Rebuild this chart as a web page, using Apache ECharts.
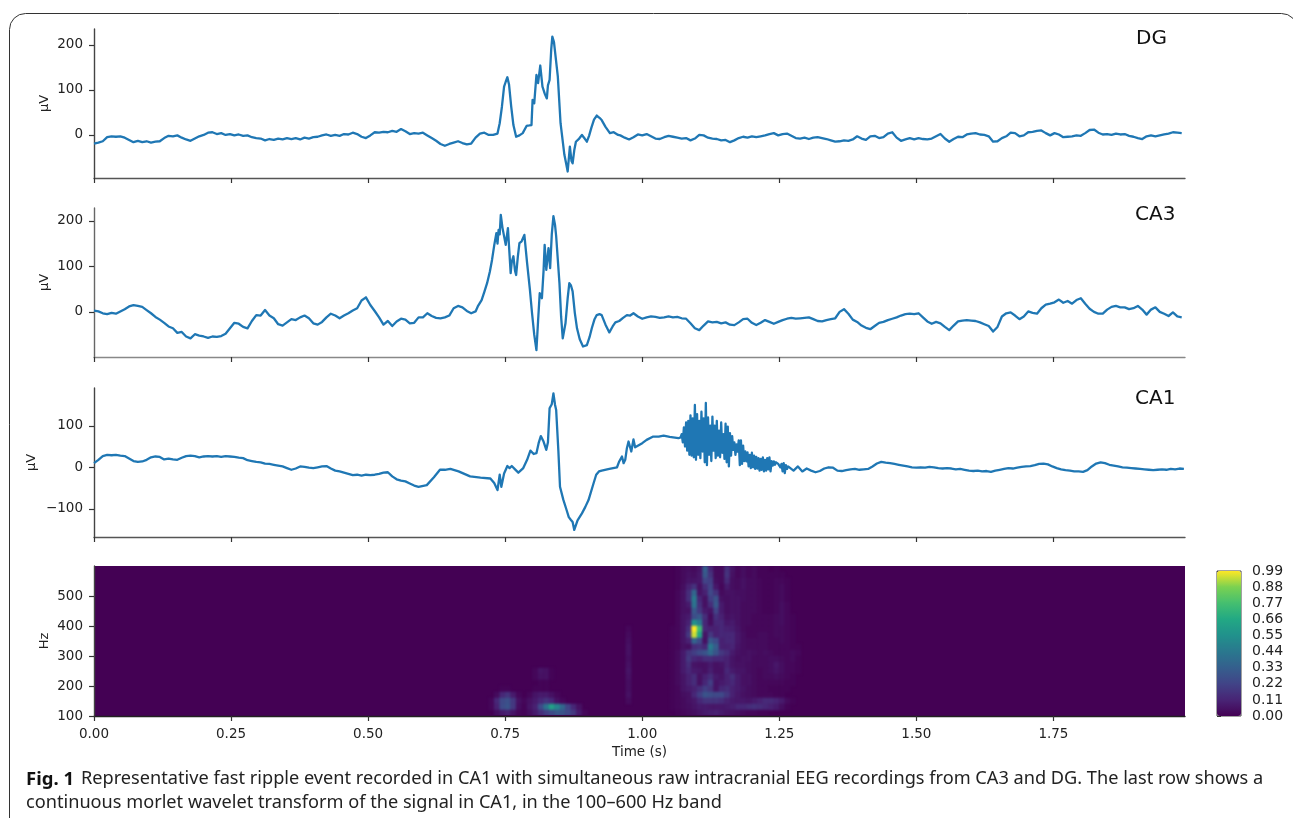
<!DOCTYPE html>
<html>
<head>
<meta charset="utf-8">
<style>
html,body{margin:0;padding:0;background:#fff}
#c{width:1293px;height:818px}
#c canvas[data-zr-dom-id="zr_1"]{filter:blur(1.2px);clip-path:inset(566px 108px 103px 94px)}
</style>
<script src="https://cdn.jsdelivr.net/npm/echarts@6/dist/echarts.min.js"></script>
</head>
<body>
<div id="c"></div>
<script>
// ---------- shared axis values ----------
const timeTicks = [0, 0.25, 0.5, 0.75, 1, 1.25, 1.5, 1.75];
const timeMax = 1.99;
const dgTicks = [0, 100, 200];
const ca3Ticks = [0, 100, 200];
const ca1Ticks = [-100, 0, 100];
const hzTicks = [100, 200, 300, 400, 500];
const colorTicks = [0, 0.11, 0.22, 0.33, 0.44, 0.55, 0.66, 0.77, 0.88, 0.99];
const viridis = ['#440154','#482475','#414487','#355f8d','#2a788e','#21918c','#22a884','#44bf70','#7ad151','#fde725'];

// ---------- DG (uV) ----------
const baseStep = 0.008;
const dgStart = [-19,-17,-14,-5,-3,-4,-3,-6,-11,-16,-13,-16,-14,-17,-15,-14,-7,-2,-3,-1,-6,-10,-13,-8,-3,0,5,6,2,4,0,2,-1,1,-2,-1,-5,-7,-8,-12,-9,-11,-8,-10,-7,-9,-7,-10,-6,-8,-5,-4,-1,1,-2,0,-2,2,1,5,2,-4,-7,-1,6,5,7,6,9,7,13,8,2,4,3,5,-1,-7,-13,-20,-24,-20,-17,-14,-18,-21,-19,-6,3,5,0,0,3];
const dgBurst = [[0.74,26],[0.744,62],[0.748,107],[0.751,118],[0.754,128],[0.757,112],[0.761,63],[0.765,22],[0.77,-4],[0.776,-1],[0.782,4],[0.789,20],[0.794,21],[0.798,22],[0.80,78],[0.803,70],[0.807,133],[0.81,115],[0.814,154],[0.818,107],[0.822,92],[0.826,81],[0.828,110],[0.831,122],[0.834,190],[0.836,218],[0.839,206],[0.842,204],[0.846,130],[0.851,26],[0.858,-44],[0.861,-62],[0.864,-81],[0.868,-26],[0.871,-58],[0.873,-63],[0.876,-34],[0.879,-15],[0.885,-8],[0.89,0],[0.895,-8],[0.899,-15],[0.903,-2],[0.907,15],[0.912,34],[0.917,43],[0.922,38],[0.926,33],[0.933,18],[0.941,4],[0.948,6],[0.956,0]];
const dgEnd = [-1,-6,-10,-5,1,-1,2,-3,-8,-9,-5,-2,-4,-6,-8,-7,-12,-8,0,-1,-6,-8,-9,-12,-11,-16,-12,-7,-4,-6,-3,-5,-3,-1,2,4,-1,2,3,-2,-7,-8,-6,-9,-6,-5,-7,-9,-12,-15,-14,-12,-13,-10,-3,-8,-11,-3,-2,-7,-5,3,6,-6,-13,-10,-7,-10,-7,-9,-10,-8,-3,2,-8,-15,-9,-4,-5,1,3,4,1,0,-3,-15,-14,-7,-3,5,4,-3,-1,6,7,9,10,4,-1,4,1,-5,-4,-3,-1,-2,4,11,12,5,1,2,0,3,1,2,-2,-4,-7,-9,-3,-1,-3,-1,1,3,6,5,4];

// ---------- CA3 (uV) ----------
const ca3Start = [3,1,-3,-5,-2,-4,1,6,12,15,13,11,4,-3,-11,-17,-24,-32,-36,-46,-44,-54,-58,-49,-52,-54,-57,-54,-55,-53,-48,-36,-24,-26,-33,-36,-20,-7,-8,4,-8,-14,-27,-30,-23,-16,-18,-12,-8,-14,-25,-28,-22,-12,-4,-8,-14,-8,-3,3,8,25,32,15,2,-12,-28,-20,-31,-21,-15,-17,-25,-24,-12,-12,-3,-9,-13,-14,-12,-8,8,13,10,2,-3,1];
const ca3Burst = [[0.70,12],[0.707,26],[0.712,44],[0.717,63],[0.722,88],[0.726,114],[0.73,146],[0.734,173],[0.736,150],[0.738,180],[0.74,170],[0.742,213],[0.745,185],[0.747,188],[0.751,147],[0.755,184],[0.76,85],[0.762,110],[0.765,122],[0.768,90],[0.77,81],[0.773,120],[0.776,151],[0.78,155],[0.785,169],[0.79,107],[0.795,50],[0.799,-3],[0.803,-50],[0.807,-84],[0.81,-20],[0.813,41],[0.817,30],[0.82,90],[0.822,147],[0.825,92],[0.829,140],[0.832,96],[0.835,170],[0.838,210],[0.841,190],[0.843,166],[0.849,63],[0.852,-10],[0.855,-58],[0.86,-25],[0.864,30],[0.867,63],[0.87,58],[0.873,45],[0.877,-2],[0.881,-36],[0.886,-60],[0.892,-76],[0.899,-73],[0.904,-55],[0.908,-36],[0.913,-16],[0.917,-7],[0.922,-5],[0.926,-7],[0.933,-28],[0.94,-45],[0.946,-32],[0.951,-23],[0.958,-20],[0.965,-13],[0.972,-7],[0.978,-8],[0.984,-3]];
const ca3End = [-10,-15,-12,-10,-11,-13,-12,-10,-12,-11,-14,-15,-25,-36,-40,-30,-21,-23,-22,-25,-23,-28,-29,-23,-16,-15,-24,-29,-24,-18,-22,-26,-22,-18,-15,-13,-15,-14,-13,-12,-16,-20,-21,-18,-16,-14,0,6,-4,-17,-22,-30,-35,-38,-31,-24,-22,-18,-15,-12,-8,-5,-4,-5,-3,-12,-21,-26,-22,-25,-33,-40,-30,-21,-19,-18,-19,-20,-23,-27,-31,-43,-33,-10,-3,-1,-8,-16,-10,1,-2,-4,8,16,18,21,27,20,24,18,26,30,18,7,0,-4,-4,5,11,13,10,10,6,8,13,5,-6,5,10,0,-4,-9,-1,-10,-12];

// ---------- CA1 (uV) ----------
const ca1Start = [10,18,27,30,29,30,28,27,21,15,13,14,18,24,26,25,19,21,19,18,23,27,28,27,24,26,27,26,27,25,27,26,25,23,22,17,15,13,12,9,8,6,4,2,-2,-6,-3,2,1,-1,-2,0,2,3,-3,-8,-10,-13,-16,-19,-18,-20,-18,-19,-18,-16,-13,-12,-22,-29,-32,-34,-39,-44,-47];
const ca1Event = [[0.607,-43],[0.62,-24],[0.631,-6],[0.64,-6],[0.65,-4],[0.665,-10],[0.686,-22],[0.705,-25],[0.723,-27],[0.73,-38],[0.736,-55],[0.74,-18],[0.743,-47],[0.748,-15],[0.754,3],[0.758,-2],[0.762,3],[0.768,-5],[0.774,-13],[0.783,-2],[0.79,18],[0.796,40],[0.802,32],[0.807,34],[0.811,58],[0.815,75],[0.82,62],[0.825,42],[0.828,60],[0.831,142],[0.835,152],[0.838,178],[0.841,150],[0.843,138],[0.847,40],[0.85,-47],[0.856,-78],[0.862,-103],[0.866,-120],[0.87,-127],[0.873,-132],[0.876,-151],[0.882,-128],[0.89,-111],[0.896,-96],[0.902,-79],[0.91,-44],[0.916,-18],[0.921,-10],[0.926,-8],[0.94,-4],[0.954,0],[0.958,14],[0.963,26],[0.966,10],[0.969,18],[0.972,46],[0.975,62],[0.98,38],[0.984,67],[0.987,48],[0.99,46],[1.0,58],[1.008,66],[1.02,74],[1.03,74],[1.039,76],[1.05,73],[1.066,70]];
const ca1RippleStart = 1.07;
const ca1RippleStep = 0.002;
const ca1Ripple = [72,80,60,96,50,108,40,112,30,125,28,118,24,150,18,128,30,112,22,134,38,118,12,155,5,120,30,100,15,122,40,100,22,112,28,88,24,108,35,80,20,105,12,98,2,82,28,75,42,60,30,55,38,65,5,65,8,52,15,38,14,36,2,30,-2,35,0,28,-4,25,-3,22,-8,20,-6,24,-10,18,-8,22,-5,24,-10,15,4,14,6,12,10,8,4,0,8,-10,10,-14,5,-4,2];
const ca1End = [4,-8,2,-10,-3,-8,-12,-9,-3,0,-1,-8,-9,-7,-5,-4,-6,-5,-4,2,9,13,11,10,8,6,4,2,0,-1,0,-1,1,0,-2,-3,-2,-3,-5,-4,-6,-8,-9,-8,-10,-9,-11,-8,-6,-4,-2,-3,-1,1,2,3,5,8,9,7,2,-2,-5,-7,-8,-10,-10,-11,-7,2,9,12,10,6,4,2,0,-1,-2,-3,-4,-5,-6,-7,-6,-5,-6,-4,-5,-3,-4];

// ---------- wavelet power: rows 580 Hz bin (top) down to 100 Hz bin, 20 Hz wide, columns from 1.04 s, 0.01 s wide ----------
const rippleColStart = 104;
const ripplePower = [
[0,0,.01,.03,.04,.03,.06,.33,.12,.03,.03,.15,.06,.02,.04,.02,.03,.01,.01,0,.01,0,0,0,0],
[0,0,.01,.03,.05,.04,.07,.3,.16,.03,.03,.16,.05,.02,.04,.02,.03,.01,.01,.01,.01,.01,0,0,0],
[0,0,.01,.03,.06,.06,.07,.22,.2,.04,.03,.13,.04,.03,.05,.03,.03,.02,.01,.01,.02,.02,.01,0,0],
[0,0,.01,.04,.1,.16,.05,.14,.22,.07,.02,.08,.04,.03,.05,.03,.03,.02,.01,.01,.02,.03,.01,0,0],
[0,0,.02,.05,.14,.36,.06,.1,.24,.16,.03,.05,.05,.04,.04,.03,.03,.02,.01,.01,.02,.03,.01,0,0],
[0,0,.02,.05,.14,.44,.12,.05,.2,.28,.05,.04,.05,.05,.04,.03,.03,.02,.01,.01,.02,.03,.01,0,0],
[0,0,.02,.05,.08,.42,.15,.05,.14,.3,.08,.04,.05,.05,.03,.03,.03,.02,.01,.01,.02,.04,.02,0,0],
[0,0,.02,.05,.05,.3,.18,.08,.06,.22,.08,.04,.05,.05,.03,.03,.03,.02,.01,.01,.02,.04,.02,0,0],
[0,0,.02,.06,.08,.26,.3,.14,.03,.15,.1,.05,.06,.05,.03,.03,.02,.02,.02,.02,.03,.04,.02,.01,0],
[0,0,.02,.06,.1,.55,.45,.12,.04,.12,.12,.07,.08,.05,.03,.03,.02,.02,.02,.02,.03,.04,.02,.01,0],
[0,.01,.02,.06,.14,.99,.75,.12,.1,.1,.12,.1,.09,.06,.03,.02,.02,.02,.02,.02,.03,.03,.02,.01,0],
[0,.01,.02,.06,.18,.95,.65,.06,.18,.1,.12,.12,.12,.07,.04,.02,.02,.03,.03,.02,.03,.03,.02,.01,0],
[0,.01,.02,.06,.1,.35,.25,.05,.3,.25,.1,.12,.12,.07,.04,.03,.03,.03,.03,.02,.02,.03,.02,.01,0],
[0,.01,.02,.05,.04,.14,.16,.12,.45,.32,.1,.1,.11,.06,.04,.03,.03,.03,.03,.02,.02,.02,.02,.01,.01],
[0,.01,.03,.08,.16,.2,.25,.28,.38,.28,.18,.14,.08,.05,.04,.05,.04,.03,.04,.03,.02,.02,.02,.03,.02],
[0,.01,.03,.08,.18,.12,.1,.14,.14,.12,.12,.1,.06,.04,.05,.05,.03,.03,.03,.04,.04,.03,.02,.03,.01],
[0,.01,.03,.08,.14,.06,.05,.05,.08,.05,.06,.1,.06,.05,.05,.04,.03,.03,.03,.04,.07,.04,.02,.02,.01],
[0,.01,.03,.08,.12,.08,.07,.05,.09,.05,.05,.12,.08,.06,.06,.04,.03,.02,.03,.04,.06,.04,.02,.02,.01],
[0,.01,.03,.06,.1,.14,.05,.1,.14,.08,.06,.1,.14,.08,.05,.05,.03,.02,.03,.03,.04,.03,.02,.01,0],
[0,.01,.03,.06,.1,.14,.05,.12,.2,.06,.08,.1,.12,.08,.05,.05,.03,.02,.02,.02,.02,.02,.01,.01,0],
[0,.01,.02,.06,.08,.1,.14,.2,.16,.06,.12,.14,.1,.08,.06,.04,.03,.02,.02,.01,.01,.01,.01,0,0],
[0,.01,.02,.04,.05,.12,.2,.28,.26,.24,.24,.18,.1,.07,.05,.04,.03,.02,.02,.02,.01,.01,0,0,0],
[0,.01,.02,.03,.05,.07,.12,.16,.16,.16,.14,.1,.08,.07,.07,.06,.08,.1,.13,.13,.11,.08,.03,.01,0],
[0,.01,.02,.03,.04,.06,.08,.08,.07,.07,.07,.08,.09,.12,.12,.14,.15,.14,.12,.1,.08,.04,.01,0,0],
[0,0,.01,.02,.03,.04,.06,.08,.09,.1,.08,.06,.05,.04,.03,.02,.02,.01,.01,0,0,0,0,0,0]
];
// rows 240 Hz bin down to 100 Hz bin, columns from 0.72 s
const sharpColStart = 72;
const sharpRowStart = 17;
const sharpPower = [
[0,0,0,0,0,0,0,0,.02,.06,.05,.01,0,0,0,0,0,0],
[0,0,0,0,0,0,0,0,.02,.05,.05,.01,0,0,0,0,0,0],
[0,0,0,0,0,0,0,0,0,.01,.01,0,0,0,0,0,0,0],
[0,0,.01,.01,0,0,0,0,.01,.01,.01,0,0,0,0,0,0,0],
[0,.03,.12,.16,.08,.02,0,.02,.06,.08,.08,.05,.02,0,0,0,0,0],
[.02,.12,.24,.27,.18,.05,.02,.05,.08,.12,.16,.12,.05,.02,0,0,0,0],
[.02,.1,.25,.28,.18,.04,.01,.06,.1,.25,.42,.62,.5,.36,.22,.12,.05,0],
[0,.04,.08,.1,.06,.02,.01,.04,.08,.14,.2,.25,.3,.28,.24,.18,.08,.02]
];
// faint column at 0.97 s, rows from the 400 Hz bin
const faintCol = 97;
const faintRowStart = 10;
const faintPower = [.02,.03,.04,.05,.05,.04,.05,.06,.05,.04,.04,.05,.03];

// ---------- build ----------
function uniform(start, step, vals){ return vals.map((v,i)=>[+(start+i*step).toFixed(4), v]); }
const dgData = uniform(0, baseStep, dgStart).concat(dgBurst, uniform(0.96, baseStep, dgEnd));
const ca3Data = uniform(0, baseStep, ca3Start).concat(ca3Burst, uniform(0.992, baseStep, ca3End));
const ca1Data = uniform(0, baseStep, ca1Start).concat(ca1Event, uniform(ca1RippleStart, ca1RippleStep, ca1Ripple), uniform(1.268, baseStep, ca1End));

const heatCells = [];
ripplePower.forEach((row,r)=>row.forEach((v,c)=>{ if(v>0) heatCells.push([rippleColStart+c, 24-r, v]); }));
sharpPower.forEach((row,r)=>row.forEach((v,c)=>{ if(v>0) heatCells.push([sharpColStart+c, 24-(sharpRowStart+r), v]); }));
faintPower.forEach((v,r)=>heatCells.push([faintCol, 24-(faintRowStart+r), v]));
const timeBins = Array.from({length:199},(_,i)=>String(i));
const hzBins = Array.from({length:25},(_,i)=>String(i));

const FONT = '"DejaVu Sans"';
const INK = '#222';
function fmt(v){ return String(v).replace('-','\u2212'); }
function timeAxis(idx, spine, labels){
  return { type:'value', gridIndex:idx, min:0, max:timeMax, position:'bottom', splitLine:{show:false},
    axisLine:{show:true,onZero:false,lineStyle:{color:spine,width:1.4}},
    axisTick:{show:true,length:5,customValues:timeTicks,lineStyle:{color:'#333',width:1.2}},
    axisLabel:{show:labels,customValues:timeTicks,margin:11,color:INK,fontFamily:FONT,fontSize:13.5,formatter:v=>v.toFixed(2)} };
}
function yAxis(idx, min, max, ticks, name, spine, gap){
  return { type:'value', gridIndex:idx, min, max, name, nameLocation:'middle', nameGap:gap, nameMoveOverlap:false,
    nameTextStyle:{color:INK,fontFamily:FONT,fontSize:13},
    splitLine:{show:false}, axisLine:{show:true,onZero:false,lineStyle:{color:spine,width:1.4}},
    axisTick:{show:true,length:5,customValues:ticks,lineStyle:{color:'#333',width:1.2}},
    axisLabel:{customValues:ticks,margin:11,color:INK,fontFamily:FONT,fontSize:13.5,formatter:fmt} };
}
const LINE = '#1f77b4';
function trace(i,data){ return {type:'line',xAxisIndex:i,yAxisIndex:i,data,showSymbol:false,symbol:'none',silent:true,animation:false,
  lineStyle:{color:LINE,width:2.3,join:'round'}}; }

const x3 = timeAxis(3,'#222',true);
x3.name='Time (s)'; x3.nameLocation='middle'; x3.nameGap=29; x3.nameMoveOverlap=false;
x3.nameTextStyle={color:INK,fontFamily:FONT,fontSize:13.5};

const chart = echarts.init(document.getElementById('c'),null,{renderer:'canvas'});
chart.setOption({
  animation:false,
  backgroundColor:'#fff',
  grid:[
    {left:94,width:1091,top:29,height:149},
    {left:94,width:1091,top:208,height:149},
    {left:94,width:1091,top:388,height:149},
    {left:94,width:1091,top:566,height:150,show:true,backgroundColor:viridis[0],borderWidth:0},
    {left:1217,width:24,top:571,height:145,show:true,backgroundColor:'transparent',borderColor:'#444',borderWidth:1}
  ],
  xAxis:[
    timeAxis(0,'#555',false), timeAxis(1,'#888',false), timeAxis(2,'#555',false), x3,
    {type:'category',gridIndex:3,data:timeBins,show:false},
    {type:'value',gridIndex:4,min:0,max:1,show:false}
  ],
  yAxis:[
    yAxis(0,-95.5,235,dgTicks,'\u03bcV','#444',43),
    yAxis(1,-99,228,ca3Ticks,'\u03bcV','#666',43),
    yAxis(2,-168,191,ca1Ticks,'\u03bcV','#444',56),
    yAxis(3,100,600,hzTicks,'Hz','#444',43),
    {type:'category',gridIndex:3,data:hzBins,show:false},
    {type:'value',gridIndex:4,min:0,max:0.99,position:'right',splitLine:{show:false},
      axisLine:{show:false},axisTick:{show:true,length:4,customValues:colorTicks,lineStyle:{color:'#333',width:1}},
      axisLabel:{customValues:colorTicks,margin:11,color:INK,fontFamily:FONT,fontSize:14,formatter:v=>v.toFixed(2)}}
  ],
  visualMap:[{type:'continuous',seriesIndex:3,min:0,max:0.99,calculable:false,orient:'vertical',
    left:1217,top:571,itemWidth:24,itemHeight:145,padding:0,hoverLink:false,
    inRange:{color:viridis},textStyle:{color:'transparent'}}],
  series:[
    trace(0,dgData), trace(1,ca3Data), trace(2,ca1Data),
    {type:'heatmap',xAxisIndex:4,yAxisIndex:4,data:heatCells,silent:true,progressive:0,zlevel:1,itemStyle:{borderWidth:0}},
    {type:'line',xAxisIndex:5,yAxisIndex:5,data:[],silent:true}
  ],
  graphic:[
    {type:'rect',silent:true,z:-1,shape:{x:9.5,y:13.5,width:1288,height:900,r:16},style:{fill:'none',stroke:'#333',lineWidth:1}},
    {type:'text',silent:true,x:1136,y:29,style:{text:'DG',font:'20px "DejaVu Sans"',fill:'#111'}},
    {type:'text',silent:true,x:1135,y:205,style:{text:'CA3',font:'20px "DejaVu Sans"',fill:'#111'}},
    {type:'text',silent:true,x:1135,y:389,style:{text:'CA1',font:'20px "DejaVu Sans"',fill:'#111'}},
    {type:'text',silent:true,x:26,y:770,style:{text:'Fig. 1',font:'bold 18.5px "Noto Sans"',fill:'#111'}},
    {type:'text',silent:true,x:81,y:770,style:{text:'Representative fast ripple event recorded in CA1 with simultaneous raw intracranial EEG recordings from CA3 and DG. The last row shows a',font:'18.17px "Noto Sans"',fill:'#222'}},
    {type:'text',silent:true,x:26,y:794,style:{text:'continuous morlet wavelet transform of the signal in CA1, in the 100\u2013600 Hz band',font:'18.17px "Noto Sans"',fill:'#222'}}
  ]
});
</script>
</body>
</html>
